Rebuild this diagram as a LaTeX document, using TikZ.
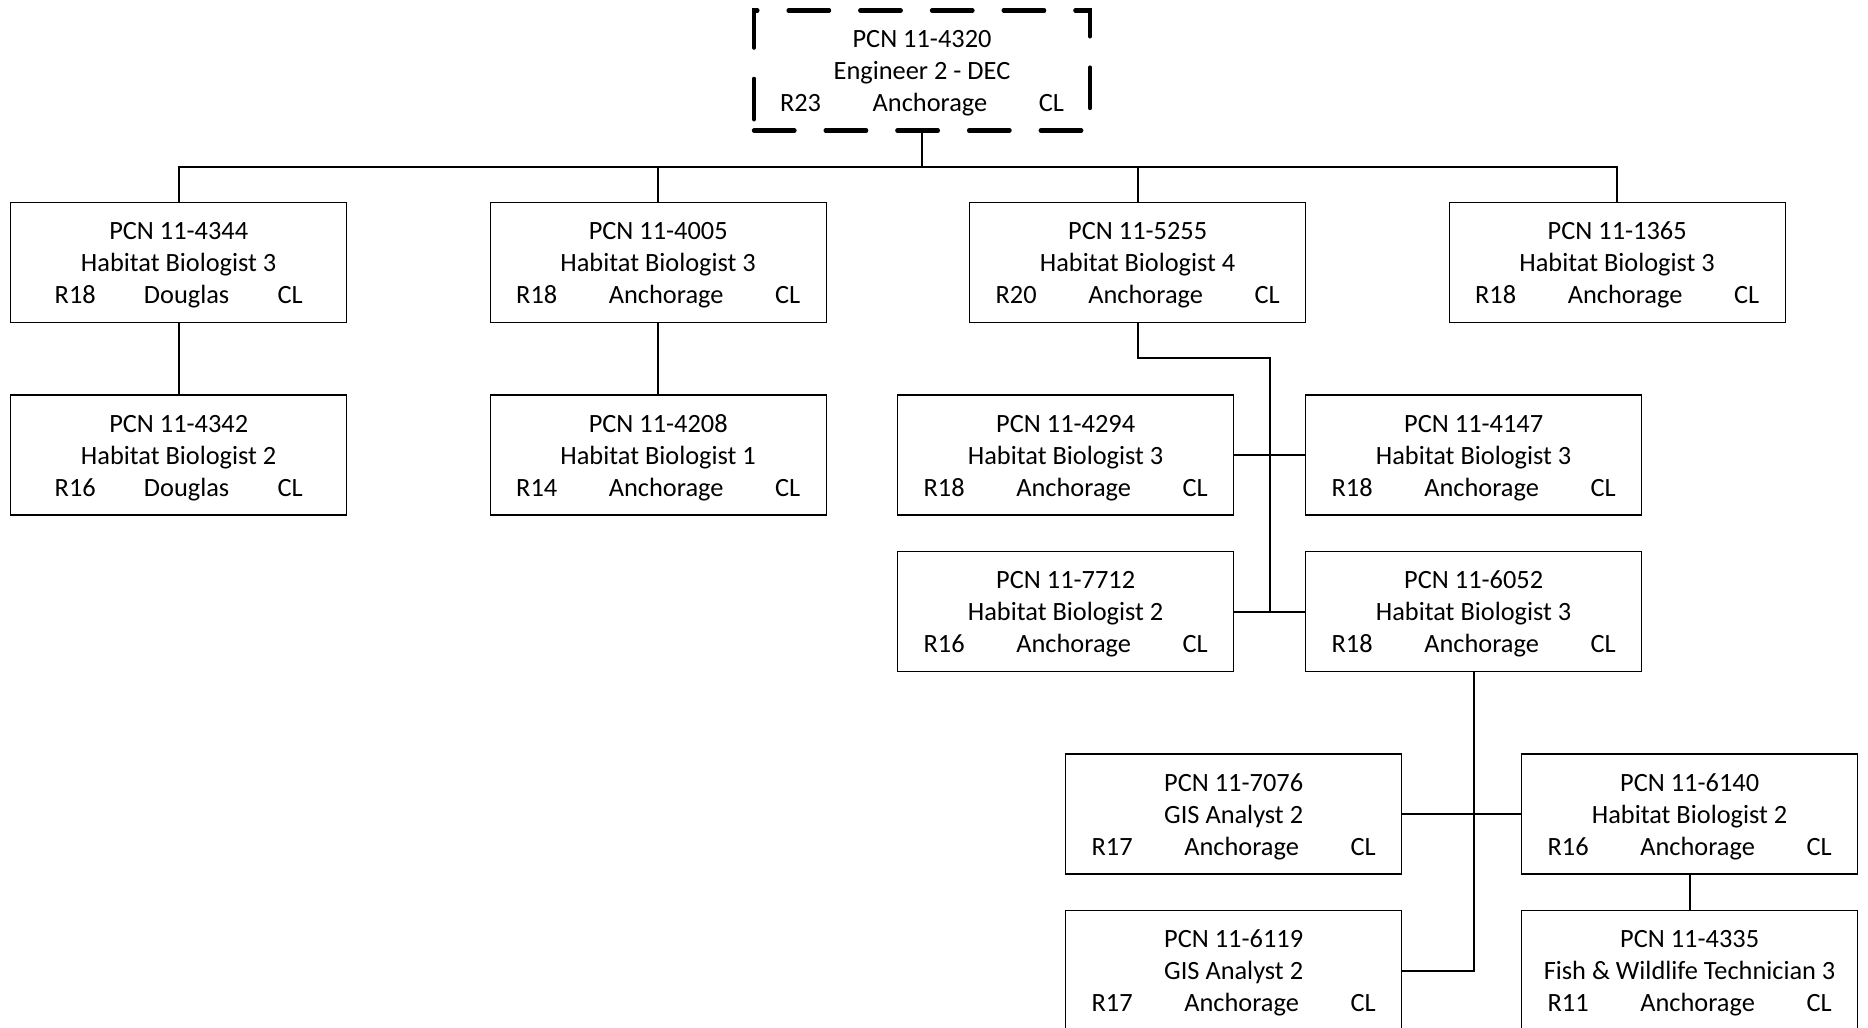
\documentclass[tikz,border=0pt]{standalone}
\usepackage{fontspec}
\setmainfont{Carlito}
\usetikzlibrary{positioning, calc}
\newcommand{\pcn}[5][5.68cm]{\rule{0pt}{13pt}PCN 11-#2\\#3\\\makebox[#1]{#4\hfill #5\hfill CL}}

\begin{document}
\begin{tikzpicture}[
  font=\fontsize{15}{18.2}\selectfont,
  node distance=1.42cm and 2.845cm,
  box/.style={draw, line width=0.7pt, align=center, inner sep=0pt,
              minimum width=6.72cm, minimum height=2.4cm},
  lead/.style={box, line width=2.5pt, line cap=round,
               dash pattern=on 23pt off 17.8pt},
  link/.style={line width=1.1pt},
  ]
\useasboundingbox (0,0) rectangle (37.36,-20.56);

\node[lead] (p4320) at (18.44,-1.41) {\pcn{4320}{Engineer 2 - DEC}{R23}{Anchorage}};

\node[box] (p4344) at (3.574,-5.254) {\pcn[4.96cm]{4344}{Habitat Biologist 3}{R18}{Douglas}};
\node[box, right=of p4344] (p4005) {\pcn{4005}{Habitat Biologist 3}{R18}{Anchorage}};
\node[box, right=of p4005] (p5255) {\pcn{5255}{Habitat Biologist 4}{R20}{Anchorage}};
\node[box, right=of p5255] (p1365) {\pcn{1365}{Habitat Biologist 3}{R18}{Anchorage}};

\node[box, below=of p4344] (p4342) {\pcn[4.96cm]{4342}{Habitat Biologist 2}{R16}{Douglas}};
\node[box, below=of p4005] (p4208) {\pcn{4208}{Habitat Biologist 1}{R14}{Anchorage}};

\node[box, below=of p5255, xshift=-1.44cm] (p4294) {\pcn{4294}{Habitat Biologist 3}{R18}{Anchorage}};
\node[box, right=1.415cm of p4294] (p4147) {\pcn{4147}{Habitat Biologist 3}{R18}{Anchorage}};
\node[box, below=0.71cm of p4294] (p7712) {\pcn{7712}{Habitat Biologist 2}{R16}{Anchorage}};
\node[box, below=0.71cm of p4147] (p6052) {\pcn{6052}{Habitat Biologist 3}{R18}{Anchorage}};

\node[box, below=1.62cm of p6052, xshift=-4.80cm] (p7076) {\pcn{7076}{GIS Analyst 2}{R17}{Anchorage}};
\node[box, right=2.375cm of p7076] (p6140) {\pcn{6140}{Habitat Biologist 2}{R16}{Anchorage}};
\node[box, below=0.71cm of p7076] (p6119) {\pcn{6119}{GIS Analyst 2}{R17}{Anchorage}};
\node[box, below=0.71cm of p6140] (p4335) {\pcn{4335}{Fish \& Wildlife Technician 3}{R11}{Anchorage}};

% top level
\coordinate[below=0.69cm of p4320] (bus0);
\draw[link] (p4320) -- (bus0) -| (p4344);
\draw[link] (bus0) -| (p4005);
\draw[link] (bus0) -| (p5255);
\draw[link] (bus0) -| (p1365);

\draw[link] (p4344) -- (p4342);
\draw[link] (p4005) -- (p4208);

% under 11-5255
\coordinate[below=0.69cm of p5255] (bus3);
\draw[link] (p5255) -- (bus3) -| ($(p7712.east)!0.5!(p6052.west)$);
\draw[link] (p4294) -- (p4147);
\draw[link] (p7712) -- (p6052);

% under 11-6052
\draw[link] (p6052) |- (p6119);
\draw[link] (p7076) -- (p6140);
\draw[link] (p6140) -- (p4335);
\end{tikzpicture}
\end{document}
